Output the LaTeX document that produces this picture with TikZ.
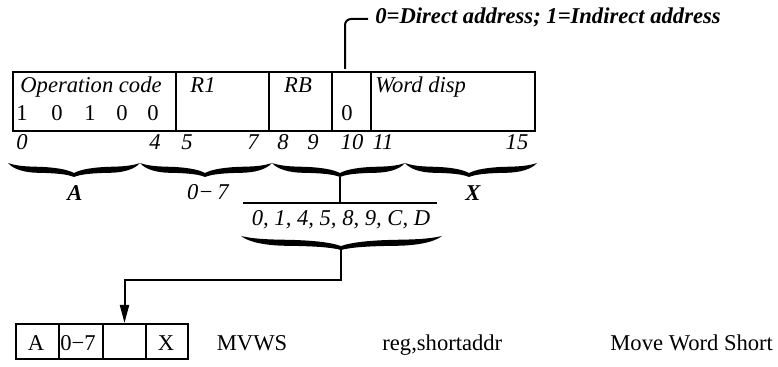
\documentclass[tikz,border=0pt]{standalone}
\usepackage{fontspec}
\setmainfont{Liberation Serif}
\usetikzlibrary{arrows.meta}
\newcommand\halfbrace{\fill (0,0) .. controls (0.12,0.2) and (0.25,0.25) .. (0.45,0.27) .. controls (0.7,0.3) and (0.9,0.45) .. (1,0.72) -- (1,1) .. controls (0.9,0.8) and (0.72,0.72) .. (0.45,0.7) .. controls (0.25,0.68) and (0.08,0.45) .. (0,0) -- cycle;}
\newcommand\cbrace[5]{%
\begin{scope}[shift={(#1,#4)},xscale={#2-#1},yscale=#5]\halfbrace\end{scope}
\begin{scope}[shift={(#3,#4)},xscale={#2-#3},yscale=#5]\halfbrace\end{scope}}
\begin{document}
\begin{tikzpicture}[x=0.5pt,y=-0.5pt,
  every node/.style={font=\fontsize{11.3}{13}\selectfont, inner sep=0pt},
  field/.style={draw, line width=1pt, minimum height=29.5pt, anchor=north west},
  cell/.style={draw, line width=1pt, minimum height=17.5pt, anchor=north west},
  lbl/.style={anchor=base, font=\fontsize{11.3}{13}\selectfont\itshape},
  blbl/.style={anchor=base, font=\fontsize{11.3}{13}\selectfont\bfseries\itshape},
  num/.style={anchor=base},
  conn/.style={line width=1pt}]
\useasboundingbox (0,0) rectangle (778,367);
% top instruction format
\node[field, minimum width=81.5pt] (f1) at (12,71) {};
\node[field, minimum width=46.5pt] (f2) at (175,71) {};
\node[field, minimum width=31.5pt] (f3) at (268,71) {};
\node[field, minimum width=19.5pt] (f4) at (331,71) {};
\node[field, minimum width=82pt] (f5) at (370,71) {};
\node[lbl, anchor=base west] (t1) at (20,93) {Operation code};
\node[lbl] (t2) at (203,93) {R1};
\node[lbl] (t3) at (298,93) {RB};
\node[lbl, anchor=base west] (t5) at (375,93) {Word disp};
\node[num] (d1) at (22,121) {1};
\node[num] (d2) at (57,121) {0};
\node[num] (d3) at (90,121) {1};
\node[num] (d4) at (122,121) {0};
\node[num] (d5) at (153,121) {0};
\node[num] (d6) at (347,121) {0};
% bit numbers
\node[lbl] (b0) at (22,150) {0};
\node[lbl] (b4) at (155,150) {4};
\node[lbl] (b5) at (187,150) {5};
\node[lbl] (b7) at (253,150) {7};
\node[lbl] (b8) at (283,150) {8};
\node[lbl] (b9) at (313,150) {9};
\node[lbl] (b10) at (352,150) {10};
\node[lbl] (b11) at (383,150) {11};
\node[lbl] (b15) at (517,150) {15};
% leader
\node[blbl, anchor=base west] (lead) at (375,24) {0=Direct address; 1=Indirect address};
\coordinate (f4top) at (345,69);
\coordinate (leadend) at (368,19);
\draw[conn, rounded corners=3pt] (f4top) |- (leadend);
% braces
\cbrace{8}{74}{140}{163}{14}
\cbrace{140}{205}{272}{163}{14}
\cbrace{272}{340}{405}{163}{14}
\cbrace{405}{469}{537}{163}{14}
\node[blbl] (lA) at (75,201) {A};
\node[lbl] (l07) at (208,200) {0\char"2212\,7};
\node[blbl] (lX) at (473,201) {X};
\coordinate (tip3) at (340,177);
\coordinate (bar) at (340,203);
\coordinate (barL) at (243,203);
\coordinate (barR) at (437,203);
\draw[conn] (tip3) -- (bar);
\draw[conn] (barL) -- (barR);
\node[lbl] (codes) at (341,226) {0, 1, 4, 5, 8, 9, C, D};
\cbrace{241}{341}{442}{236}{14}
% bottom boxes
\node[cell, minimum width=21.5pt] (c1) at (15,323) {};
\node[cell, minimum width=22pt] (c2) at (58,323) {};
\node[cell, minimum width=21.5pt] (c3) at (102,323) {};
\node[cell, minimum width=21pt] (c4) at (145,323) {};
\node[num] (cA) at (36,351) {A};
\node[num, anchor=base west] (c07) at (60,351) {0\char"2212 7};
\node[num] (cX) at (166,351) {X};
\node[num] (mn) at (252,351) {MVWS};
\node[num, anchor=base west] (ops) at (382,351) {reg,shortaddr};
\node[num, anchor=base west] (desc) at (610,351) {Move Word Short};
% connector
\coordinate (bt) at (341,249);
\coordinate (turn) at (200,280);
\draw[conn, -{Triangle[length=9pt,width=4.5pt]}] (bt) |- (turn) -| (c3.north);
\end{tikzpicture}
\end{document}
